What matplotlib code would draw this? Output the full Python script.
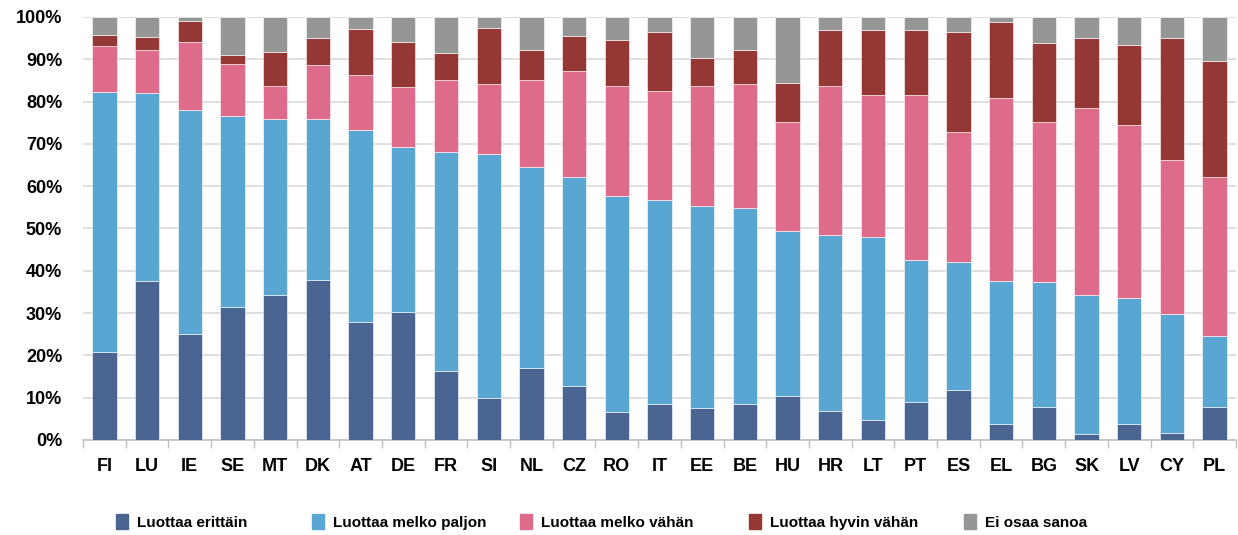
import matplotlib.pyplot as plt
import matplotlib.patches as patches
import numpy as np

maat = ['FI', 'LU', 'IE', 'SE', 'MT', 'DK', 'AT', 'DE', 'FR', 'SI', 'NL', 'CZ', 'RO', 'IT',
        'EE', 'BE', 'HU', 'HR', 'LT', 'PT', 'ES', 'EL', 'BG', 'SK', 'LV', 'CY', 'PL']

erittain = [20.7, 37.7, 25.1, 31.5, 34.2, 37.9, 27.9, 30.2, 16.4, 9.9, 17.0, 12.7, 6.6, 8.4,
            7.6, 8.4, 10.3, 6.9, 4.7, 9.1, 11.8, 3.7, 7.7, 1.4, 3.7, 1.7, 7.7]
melko_paljon = [61.6, 44.3, 52.8, 45.1, 41.7, 37.9, 45.4, 39.1, 51.7, 57.8, 47.5, 49.4, 51.1, 48.4,
                47.8, 46.4, 39.1, 41.6, 43.3, 33.5, 30.3, 34.0, 29.6, 32.8, 29.8, 28.1, 17.0]
melko_vahan = [10.8, 10.1, 16.1, 12.4, 7.9, 12.9, 12.9, 14.1, 16.9, 16.4, 20.7, 25.1, 25.9, 25.6,
               28.2, 29.3, 25.7, 35.1, 33.5, 38.9, 30.8, 43.1, 37.8, 44.4, 41.0, 36.5, 37.5]
hyvin_vahan = [2.6, 3.2, 5.1, 2.0, 8.0, 6.3, 11.0, 10.8, 6.5, 13.2, 7.0, 8.2, 11.0, 14.1,
               6.7, 8.1, 9.4, 13.3, 15.4, 15.4, 23.6, 18.1, 18.7, 16.4, 18.9, 28.7, 27.4]
ei_osaa = [4.3, 4.7, 0.9, 9.0, 8.2, 5.0, 2.8, 5.8, 8.5, 2.7, 7.8, 4.6, 5.4, 3.5,
           9.7, 7.8, 15.5, 3.1, 3.1, 3.1, 3.5, 1.1, 6.2, 5.0, 6.6, 5.0, 10.4]

sarjat = [erittain, melko_paljon, melko_vahan, hyvin_vahan, ei_osaa]
nimet = ['Luottaa erittäin', 'Luottaa melko paljon', 'Luottaa melko vähän',
         'Luottaa hyvin vähän', 'Ei osaa sanoa']
varit = ['#4a6592', '#5aa6d2', '#de6b8a', '#953735', '#969696']

plt.rcParams['font.family'] = ['Liberation Sans', 'DejaVu Sans']

W, H = 1238, 535
fig = plt.figure(figsize=(W / 100, H / 100), dpi=100)
ax = fig.add_axes([83 / W, 1 - 440 / H, (1236 - 83) / W, (440 - 17) / H])

x = np.arange(len(maat))
pohja = np.zeros(len(maat))
for arvot, nimi, vari in zip(sarjat, nimet, varit):
    arvot = np.array(arvot)
    ax.bar(x, arvot, bottom=pohja, width=0.57, color=vari, label=nimi,
           edgecolor='white', linewidth=0.4, zorder=3)
    pohja += arvot

ax.set_xlim(-0.5, len(maat) - 0.5)
ax.set_ylim(0, 100)
ax.set_yticks(np.arange(0, 101, 10))
ax.set_yticklabels([f'{v}%' for v in range(0, 101, 10)], fontsize=13, fontweight='bold')
ax.yaxis.grid(True, color='#d9d9d9', linewidth=1.2, zorder=0)
ax.tick_params(axis='y', length=0, pad=15)

# maiden nimet tickien väliin, tickit rajoille
ax.set_xticks(np.arange(-0.5, len(maat), 1))
ax.set_xticklabels([])
ax.set_xticks(x, minor=True)
ax.set_xticklabels(maat, minor=True, fontsize=13, fontweight='bold')
ax.tick_params(axis='x', which='major', length=6, color='#bfbfbf', width=1)
ax.tick_params(axis='x', which='minor', length=0, pad=13)

for s in ['top', 'right', 'left']:
    ax.spines[s].set_visible(False)
ax.spines['bottom'].set_color('#bfbfbf')
ax.spines['bottom'].set_linewidth(1.2)

# selite: jokainen kohta omalle paikalleen kuten alkuperäisessä
selite_x = [110, 306, 514, 743, 958]
for sx, nimi, vari in zip(selite_x, nimet, varit):
    fig.legend(handles=[patches.Patch(color=vari, label=nimi)], loc='center left',
               bbox_to_anchor=(sx / W - 0.006, 1 - 522 / H), frameon=False,
               handlelength=0.75, handleheight=1.1, handletextpad=0.6,
               prop={'weight': 'bold', 'size': 11})

fig.savefig('out.png', dpi=100)
